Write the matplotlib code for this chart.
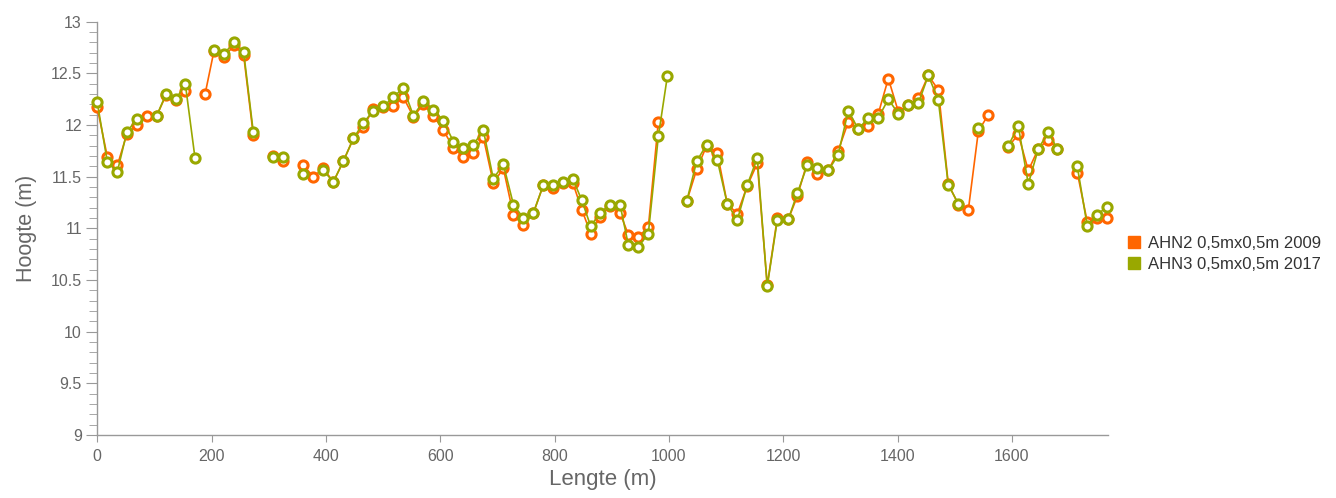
import numpy as np
import matplotlib.pyplot as plt
from matplotlib.ticker import MultipleLocator

nan = np.nan

# afstand langs het profiel (m)
lengte = [0, 17.7, 35.2, 51.6, 69.1, 86.6, 104, 120.3, 137.8, 154,
          171, 188.6, 204.3, 221.8, 239.3, 256, 273, 290, 307, 325.6,
          343, 360.5, 378, 395.5, 413, 430.5, 448, 465.5, 483, 500.5,
          518, 535.4, 553, 570.4, 588, 605.4, 623, 640.4, 658, 675.4,
          692.8, 710.4, 728, 745.4, 763, 780.4, 797, 814.5, 831.9, 847.7,
          863.2, 879.5, 897, 914.5, 929, 946.5, 964, 981.5, 997.2, 1014,
          1031, 1048.6, 1066, 1084.7, 1102, 1119.6, 1137, 1154.6, 1172, 1189.6,
          1209, 1224.6, 1242, 1259.6, 1278.8, 1296, 1313.8, 1331.3, 1348.8, 1366.3,
          1383.8, 1401.3, 1418.8, 1436.3, 1453.8, 1471.3, 1488.7, 1506.3, 1523.8, 1541.3,
          1558.7, 1576, 1593.7, 1611.2, 1628.7, 1646.2, 1663.6, 1679.4, 1697, 1714.4,
          1731.9, 1749.4, 1765.8]

ahn2 = [12.17, 11.69, 11.61, 11.91, 12.00, 12.09, 12.09, 12.29, 12.24, 12.33,
        nan, 12.30, 12.72, 12.66, 12.77, 12.68, 11.90, nan, 11.70, 11.65,
        nan, 11.61, 11.50, 11.58, 11.45, 11.65, 11.87, 11.98, 12.16, 12.17,
        12.18, 12.27, 12.08, 12.20, 12.09, 11.95, 11.78, 11.69, 11.73, 11.88,
        11.44, 11.58, 11.13, 11.03, 11.15, 11.42, 11.39, 11.44, 11.44, 11.18,
        10.95, 11.11, 11.22, 11.15, 10.94, 10.92, 11.01, 12.03, nan, nan,
        11.26, 11.57, 11.80, 11.73, 11.24, 11.14, 11.41, 11.63, 10.45, 11.10,
        11.09, 11.31, 11.64, 11.53, 11.56, 11.75, 12.03, 11.96, 11.99, 12.11,
        12.45, 12.13, 12.19, 12.26, 12.48, 12.34, 11.43, 11.23, 11.18, 11.94,
        12.10, nan, 11.79, 11.91, 11.56, 11.77, 11.86, 11.77, nan, 11.54,
        11.06, 11.10, 11.10]

ahn3 = [12.22, 11.64, 11.55, 11.93, 12.06, nan, 12.09, 12.30, 12.25, 12.40,
        11.68, nan, 12.73, 12.69, 12.80, 12.71, 11.93, nan, 11.69, 11.69,
        nan, 11.53, nan, 11.56, 11.45, 11.65, 11.87, 12.02, 12.14, 12.18,
        12.27, 12.36, 12.09, 12.23, 12.15, 12.04, 11.84, 11.78, 11.81, 11.95,
        11.48, 11.62, 11.23, 11.10, 11.15, 11.42, 11.42, 11.45, 11.48, 11.27,
        11.02, 11.15, 11.23, 11.23, 10.84, 10.82, 10.95, 11.89, 12.47, nan,
        11.26, 11.65, 11.81, 11.66, 11.24, 11.08, 11.42, 11.68, 10.44, 11.08,
        11.09, 11.34, 11.61, 11.58, 11.56, 11.71, 12.14, 11.96, 12.07, 12.07,
        12.25, 12.11, 12.19, 12.21, 12.48, 12.24, 11.42, 11.24, nan, 11.97,
        nan, nan, 11.80, 11.99, 11.43, 11.77, 11.93, 11.77, nan, 11.60,
        11.02, 11.13, 11.21]

namen = ["AHN2 0,5mx0,5m 2009", "AHN3 0,5mx0,5m 2017"]
kleuren = ["#FF6600", "#99A800"]

plt.rcParams['font.family'] = ['Liberation Sans', 'DejaVu Sans']

fig = plt.figure(figsize=(13.36, 4.98), dpi=100)
ax = fig.add_axes([0.0728, 0.1265, 0.7565, 0.8299])

for i, reeks in enumerate([ahn2, ahn3]):
    ax.plot(lengte, reeks, color=kleuren[i], lw=1.2, marker='o', ms=6.6,
            mfc='white', mec=kleuren[i], mew=2.2, zorder=3 + i, clip_on=False)

ax.set_xlim(0, 1768)
ax.set_ylim(9, 13)
ax.set_xticks(range(0, 1601, 200))
ax.yaxis.set_major_locator(MultipleLocator(0.5))
ax.yaxis.set_minor_locator(MultipleLocator(0.1))
ax.set_yticklabels([('%g' % v) for v in ax.get_yticks()])

for s in ['top', 'right']:
    ax.spines[s].set_visible(False)
for s in ['left', 'bottom']:
    ax.spines[s].set_color('#999999')
    ax.spines[s].set_linewidth(1.0)

ax.tick_params(axis='y', which='major', length=8, color='#999999', labelsize=11.5,
               labelcolor='#666666', pad=3)
ax.tick_params(axis='y', which='minor', length=6, color='#999999')
ax.tick_params(axis='x', length=5, color='#999999', labelsize=11.5,
               labelcolor='#666666', pad=5)

ax.set_xlabel("Lengte (m)", fontsize=16, color='#666666', labelpad=4)
ax.set_ylabel("Hoogte (m)", fontsize=15.5, color='#666666', labelpad=10)

handles = [plt.Line2D([], [], ls='none', marker='s', ms=8, color=k) for k in kleuren]
fig.legend(handles, namen, loc='center left', bbox_to_anchor=(0.831, 0.49),
           frameon=False, fontsize=12, handletextpad=0.35, labelspacing=0.38,
           handlelength=1.0, labelcolor='#333333')

fig.savefig("out.png", dpi=100)
